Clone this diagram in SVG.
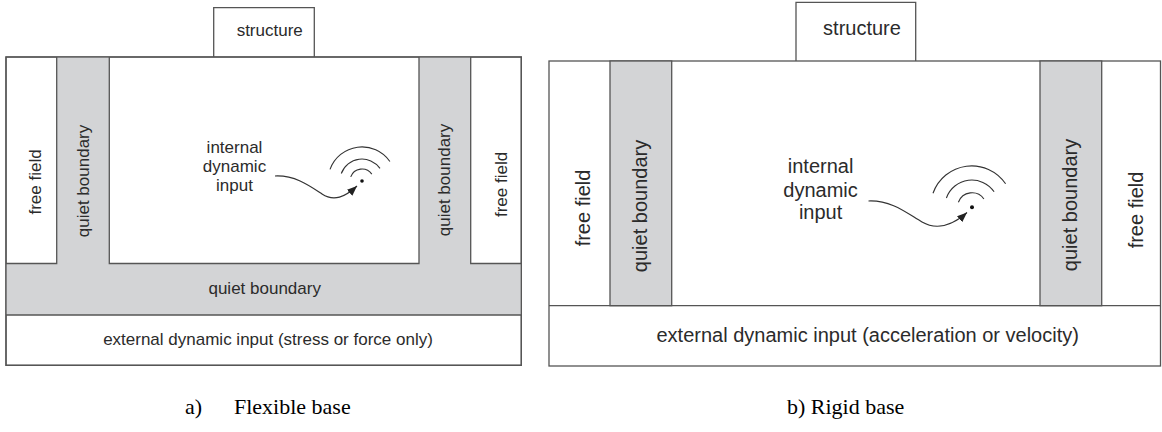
<svg xmlns="http://www.w3.org/2000/svg" width="1162" height="432" viewBox="0 0 1162 432">
<style>
.ln{fill:none;stroke:#555;stroke-width:1.3}
.bx{fill:#fff;stroke:#555;stroke-width:1.3}
.gr{fill:#d3d4d6;stroke:none}
.gb{fill:#d3d4d6;stroke:#555;stroke-width:1.3}
.t17{font-family:"Liberation Sans",Arial,sans-serif;font-size:17px;fill:#2b2b2b;text-anchor:middle}
.t20{font-family:"Liberation Sans",Arial,sans-serif;font-size:20px;fill:#2b2b2b;text-anchor:middle}
.cap{font-family:"Liberation Serif","Times New Roman",serif;font-size:22px;fill:#000}
.sq{fill:none;stroke:#333;stroke-width:1.2}
.arc{fill:none;stroke:#333;stroke-width:1.1}
</style>
<defs>
<marker id="ah" markerUnits="userSpaceOnUse" markerWidth="12" markerHeight="10" refX="10" refY="4" orient="auto">
<path d="M0,0 L10,4 L0,8 Z" fill="#222"/>
</marker>
</defs>

<!-- Left diagram: flexible base -->
<g id="a-structure">
<path class="ln" d="M213.7,57 V7.7 H314.3 V57" fill="#fff"/>
<text class="t17" x="269.7" y="36">structure</text>
</g>
<g id="a-domain">
<rect class="bx" x="6" y="57" width="515.3" height="308.3"/>
<path class="gr" d="M56.7,57 H109.3 V263.5 H419 V57 H470.7 V263.5 H521.3 V315 H6 V263.5 H56.7 Z"/>
<path class="ln" d="M56.7,57 V263.5 H6 M109.3,57 V263.5 H419 V57 M470.7,57 V263.5 H521.3 M6,315 H521.3"/>
<rect class="ln" x="6" y="57" width="515.3" height="308.3"/>
</g>
<g id="a-free-field-left"><text class="t17" transform="translate(34.5,182) rotate(-90)" dy="0.36em">free field</text></g>
<g id="a-quiet-left"><text class="t17" transform="translate(84.5,181) rotate(-90)" dy="0.255em">quiet boundary</text></g>
<g id="a-quiet-right"><text class="t17" transform="translate(446,180) rotate(-90)" dy="0.255em">quiet boundary</text></g>
<g id="a-free-field-right"><text class="t17" transform="translate(501,184.5) rotate(-90)" dy="0.36em">free field</text></g>
<g id="a-quiet-bottom"><text class="t17" x="264.7" y="293.5">quiet boundary</text></g>
<g id="a-external"><text class="t17" x="268" y="345">external dynamic input (stress or force only)</text></g>
<g id="a-internal">
<text class="t17" x="234.5" y="153.3">internal</text>
<text class="t17" x="234.5" y="172.3">dynamic</text>
<text class="t17" x="234.5" y="191">input</text>
</g>
<g id="a-source">
<circle cx="362" cy="181" r="1.8" fill="#111"/>
<path class="arc" d="M350.7,176.9 A12,12 0 0 1 371.8,174.1"/>
<path class="arc" d="M341.3,173.5 A22,22 0 0 1 380,168.4"/>
<path class="arc" d="M330,169.4 A34,34 0 0 1 389.9,161.5"/>
</g>

<!-- Right diagram: rigid base -->
<g id="b-structure">
<path class="ln" d="M796,61 V2.3 H915.7 V61" fill="#fff"/>
<text class="t20" x="862" y="35">structure</text>
</g>
<g id="b-domain">
<rect class="bx" x="549" y="61" width="611.5" height="305"/>
<rect class="gb" x="610" y="61" width="61.7" height="244.7"/>
<rect class="gb" x="1040" y="61" width="61.7" height="244.7"/>
<path class="ln" d="M549,305.7 H1160.5"/>
</g>
<g id="b-free-field-left"><text class="t20" transform="translate(583,208) rotate(-90)" dy="0.36em">free field</text></g>
<g id="b-quiet-left"><text class="t20" transform="translate(641.5,206) rotate(-90)" dy="0.255em">quiet boundary</text></g>
<g id="b-quiet-right"><text class="t20" transform="translate(1072,205) rotate(-90)" dy="0.255em">quiet boundary</text></g>
<g id="b-free-field-right"><text class="t20" transform="translate(1136,210) rotate(-90)" dy="0.36em">free field</text></g>
<g id="b-external"><text class="t20" x="867.7" y="341.7">external dynamic input (acceleration or velocity)</text></g>
<g id="b-internal">
<text class="t20" x="820.6" y="173.3">internal</text>
<text class="t20" x="820.6" y="196.5">dynamic</text>
<text class="t20" x="820.6" y="218.5">input</text>
</g>
<g id="b-source">
<circle cx="972" cy="207.3" r="2" fill="#111"/>
<path class="arc" d="M958.4,202.3 A14.5,14.5 0 0 1 983.9,199"/>
<path class="arc" d="M946.4,198 A27,27 0 0 1 994.1,191.8"/>
<path class="arc" d="M933,193.3 A41,41 0 0 1 1005.6,183.8"/>
</g>

<g id="connectors">
<path class="sq" d="M275,176 C295,175 310,186 322,194 C334,202 345,197 357,186" marker-end="url(#ah)"/>
<path class="sq" d="M868.5,201 C892,200 908,214 922,222 C936,230 952,226 967,212.5" marker-end="url(#ah)"/>
</g>

<g id="captions">
<text class="cap" x="185" y="414">a)</text>
<text class="cap" x="234" y="414">Flexible base</text>
<text class="cap" x="787" y="414">b) Rigid base</text>
</g>
</svg>
